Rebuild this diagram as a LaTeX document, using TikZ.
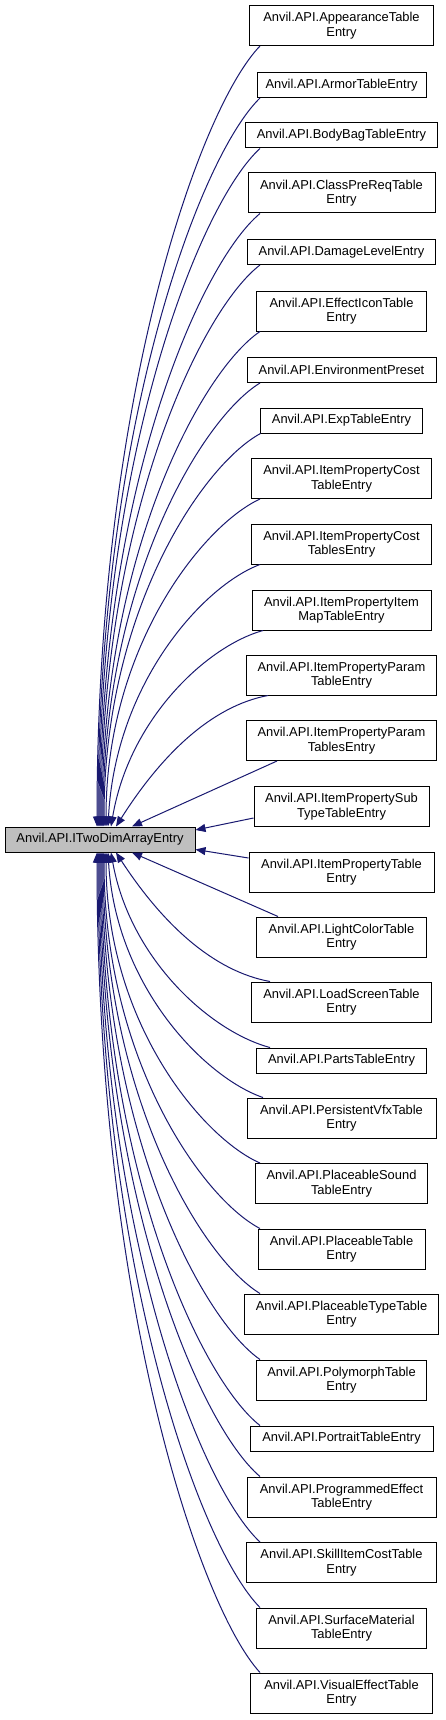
\documentclass[tikz,border=0pt]{standalone}
\usepackage{fontspec}
\setmainfont{Liberation Sans}
\usetikzlibrary{arrows.meta,calc}
\definecolor{edgeblue}{HTML}{191970}
\definecolor{basegray}{HTML}{BFBFBF}
\tikzset{
 cls/.style={draw=black, line width=1pt, fill=white, inner sep=0pt, align=center, font=\fontsize{12.9}{14.5}\selectfont, text=black},
 one/.style={cls, minimum height=25pt},
 two/.style={cls, minimum height=40pt},
 inhedge/.style={draw=edgeblue, line width=1pt, -{Triangle[length=10pt,width=8pt]}},
}
% #1 start, #2 end, #3 fraction that bends the end tangent away from vertical
\newcommand\inh[3][0]{\draw[inhedge] let \p1=(#2), \p2=(#3) in (\p1) .. controls ({\x1+0.37*(\x2-\x1)},{\y1+0.08*(\y2-\y1)}) and ({\x2+#1*(\x1-\x2)},{\y1+0.45*(\y2-\y1)}) .. (\p2);}
\begin{document}
\begin{tikzpicture}[x=1pt,y=-1pt]
\useasboundingbox (0,0) rectangle (445,1720);
\node[one, fill=basegray, minimum width=190pt] (main) at (100,839.5) {Anvil.API.ITwoDimArrayEntry};
\node[two, minimum width=184pt] (c1) at (341.5,25.5) {Anvil.API.AppearanceTable\\Entry};
\node[one, minimum width=169pt] (c2) at (341.5,85) {Anvil.API.ArmorTableEntry};
\node[one, minimum width=192pt] (c3) at (341.5,135.5) {Anvil.API.BodyBagTableEntry};
\node[two, minimum width=187pt] (c4) at (341.5,193) {Anvil.API.ClassPreReqTable\\Entry};
\node[one, minimum width=188pt] (c5) at (341.5,252) {Anvil.API.DamageLevelEntry};
\node[two, minimum width=170pt] (c6) at (341.5,311) {Anvil.API.EffectIconTable\\Entry};
\node[one, minimum width=189pt] (c7) at (341.5,370) {Anvil.API.EnvironmentPreset};
\node[one, minimum width=162pt] (c8) at (341.5,420.5) {Anvil.API.ExpTableEntry};
\node[two, minimum width=180pt] (c9) at (341.5,478.5) {Anvil.API.ItemPropertyCost\\TableEntry};
\node[two, minimum width=180pt] (c10) at (341.5,544) {Anvil.API.ItemPropertyCost\\TablesEntry};
\node[two, minimum width=179pt] (c11) at (341.5,610) {Anvil.API.ItemPropertyItem\\MapTableEntry};
\node[two, minimum width=190pt] (c12) at (341.5,675) {Anvil.API.ItemPropertyParam\\TableEntry};
\node[two, minimum width=190pt] (c13) at (341.5,740.5) {Anvil.API.ItemPropertyParam\\TablesEntry};
\node[two, minimum width=175pt] (c14) at (341.5,806.5) {Anvil.API.ItemPropertySub\\TypeTableEntry};
\node[two, minimum width=185pt] (c15) at (341.5,872) {Anvil.API.ItemPropertyTable\\Entry};
\node[two, minimum width=170pt] (c16) at (341.5,937) {Anvil.API.LightColorTable\\Entry};
\node[two, minimum width=180pt] (c17) at (341.5,1002) {Anvil.API.LoadScreenTable\\Entry};
\node[one, minimum width=170pt] (c18) at (341.5,1060.5) {Anvil.API.PartsTableEntry};
\node[two, minimum width=189pt] (c19) at (341.5,1118) {Anvil.API.PersistentVfxTable\\Entry};
\node[two, minimum width=172pt] (c20) at (341.5,1183.5) {Anvil.API.PlaceableSound\\TableEntry};
\node[two, minimum width=167pt] (c21) at (341.5,1249) {Anvil.API.PlaceableTable\\Entry};
\node[two, minimum width=194pt] (c22) at (341.5,1314) {Anvil.API.PlaceableTypeTable\\Entry};
\node[two, minimum width=170pt] (c23) at (341.5,1380) {Anvil.API.PolymorphTable\\Entry};
\node[one, minimum width=183pt] (c24) at (341.5,1438.5) {Anvil.API.PortraitTableEntry};
\node[two, minimum width=189pt] (c25) at (341.5,1497) {Anvil.API.ProgrammedEffect\\TableEntry};
\node[two, minimum width=190pt] (c26) at (341.5,1562.5) {Anvil.API.SkillItemCostTable\\Entry};
\node[two, minimum width=170pt] (c27) at (341.5,1628) {Anvil.API.SurfaceMaterial\\TableEntry};
\node[two, minimum width=182pt] (c28) at (341.5,1693) {Anvil.API.VisualEffectTable\\Entry};
% edges from children above
\inh{[xshift=-81.5pt]c1.south}{[xshift=-3pt]main.north}
\inh{[xshift=-81.5pt]c2.south}{[xshift=-2pt]main.north}
\inh{[xshift=-81.5pt]c3.south}{[xshift=-1pt]main.north}
\inh{[xshift=-81.5pt]c4.south}{[xshift=0pt]main.north}
\inh{[xshift=-81.5pt]c5.south}{[xshift=1pt]main.north}
\inh{[xshift=-81.5pt]c6.south}{[xshift=2pt]main.north}
\inh{[xshift=-81.5pt]c7.south}{[xshift=3pt]main.north}
\inh{[xshift=-81pt]c8.south}{[xshift=4pt]main.north}
\inh{[xshift=-81.5pt]c9.south}{[xshift=6pt]main.north}
\inh[0.05]{[xshift=-81.5pt]c10.south}{[xshift=8pt]main.north}
\inh[0.12]{[xshift=-78.5pt]c11.south}{[xshift=11pt]main.north}
\inh[0.3]{[xshift=-73.5pt]c12.south}{[xshift=16pt]main.north}
\draw[inhedge] ([xshift=-64.5pt]c13.south) -- ([xshift=32pt]main.north);
\draw[inhedge] ([yshift=-11.5pt]c14.west) -- ([yshift=9.5pt]main.east);
\draw[inhedge] ([yshift=14pt]c15.west) -- ([yshift=-10pt]main.east);
% edges from children below
\draw[inhedge] ([xshift=-63.5pt]c16.north) -- ([xshift=32pt]main.south);
\inh[0.3]{[xshift=-71.5pt]c17.north}{[xshift=16pt]main.south}
\inh[0.12]{[xshift=-71.5pt]c18.north}{[xshift=11pt]main.south}
\inh[0.05]{[xshift=-78.5pt]c19.north}{[xshift=8pt]main.south}
\inh{[xshift=-81.5pt]c20.north}{[xshift=6pt]main.south}
\inh{[xshift=-81.5pt]c21.north}{[xshift=4pt]main.south}
\inh{[xshift=-81.5pt]c22.north}{[xshift=3pt]main.south}
\inh{[xshift=-81.5pt]c23.north}{[xshift=2pt]main.south}
\inh{[xshift=-81.5pt]c24.north}{[xshift=1pt]main.south}
\inh{[xshift=-81.5pt]c25.north}{[xshift=0pt]main.south}
\inh{[xshift=-81.5pt]c26.north}{[xshift=-1pt]main.south}
\inh{[xshift=-81.5pt]c27.north}{[xshift=-2pt]main.south}
\inh{[xshift=-81.5pt]c28.north}{[xshift=-3pt]main.south}
\end{tikzpicture}
\end{document}
